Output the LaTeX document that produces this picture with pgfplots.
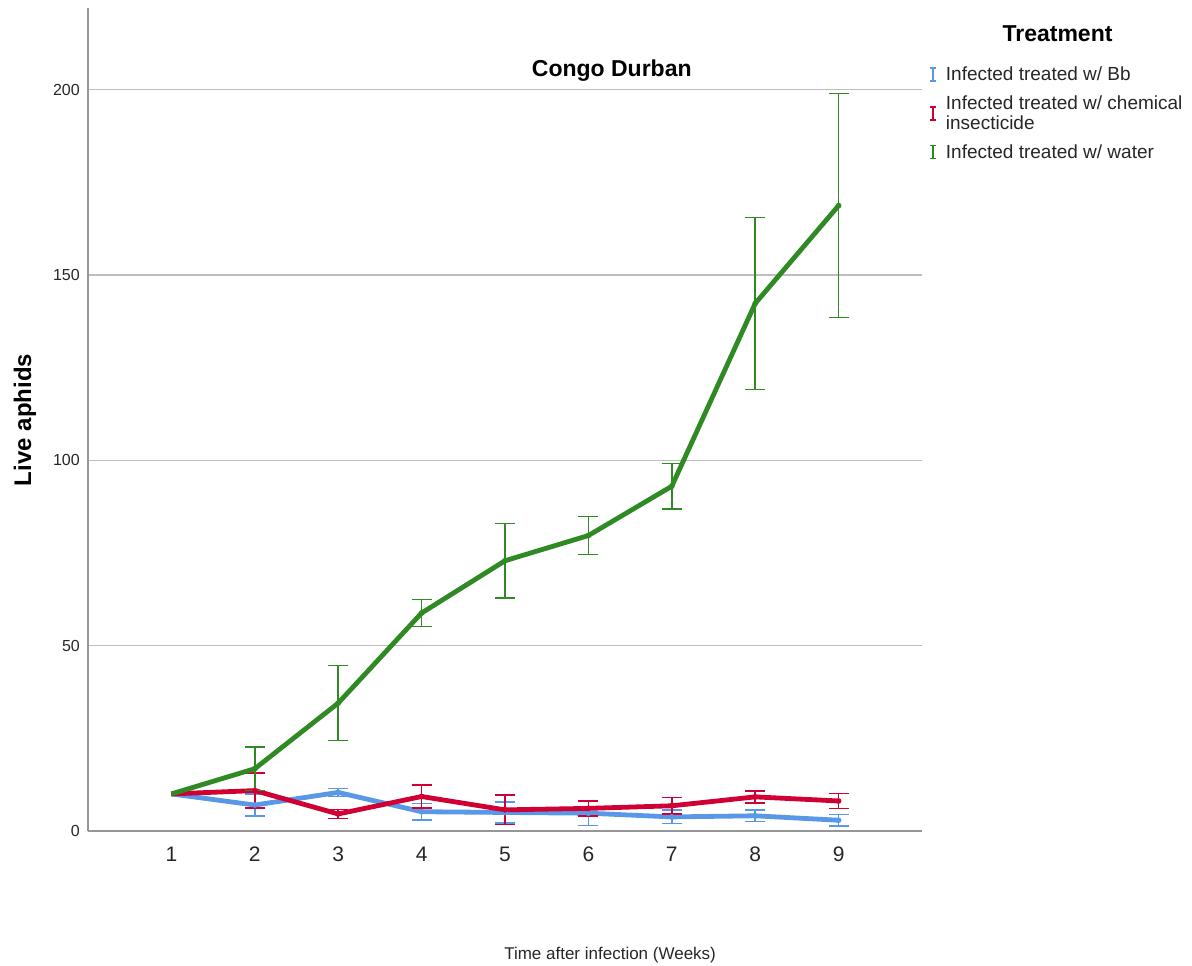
\documentclass[border=0pt]{standalone}
\usepackage{fontspec}
\setmainfont{Liberation Sans}
\usepackage{pgfplots}
\pgfplotsset{compat=1.18}

\definecolor{cBb}{RGB}{88,152,230}
\definecolor{cChem}{RGB}{208,0,52}
\definecolor{cWater}{RGB}{48,138,36}
\definecolor{axisgray}{RGB}{150,150,150}
\definecolor{gridgray}{RGB}{190,190,190}

\pgfplotsset{
  ibar/.style={
    legend image code/.code={
      \path[draw=none] (0pt,0pt) -- (14pt,0pt);
      \draw[line width=1.4pt] (3pt,-6.5pt) -- (3pt,6.5pt);
      \draw[line width=1.4pt] (0pt,-6.5pt) -- (6pt,-6.5pt);
      \draw[line width=1.4pt] (0pt,6.5pt) -- (6pt,6.5pt);
    }
  },
  meanline/.style={line width=4.8pt, line join=round, mark=none, forget plot},
  errbars/.style={only marks, mark=none, line width=1.6pt, ibar,
    error bars/y dir=both, error bars/y explicit,
    error bars/error bar style={line width=1.6pt},
    error bars/error mark options={rotate=90, mark size=10pt, line width=1.6pt}},
}

\begin{document}
\begin{tikzpicture}
\path (-88pt,-135pt) rectangle (1104pt,831pt);
\begin{axis}[
  at={(0pt,0pt)}, anchor=south west,
  scale only axis, width=834pt, height=823pt,
  xmin=0, xmax=10, ymin=0, ymax=222,
  axis x line=bottom, axis y line=left,
  axis line style={-, draw=axisgray, line width=1.5pt},
  xtick={1,...,9}, ytick={0,50,100,150,200},
  major tick length=0pt,
  ymajorgrids, grid style={gridgray, line width=1.2pt},
  /pgf/number format/assume math mode=true,
  xticklabel style={font=\fontsize{21}{24}\selectfont, inner sep=0pt, anchor=north, yshift=-16pt, text=black!85},
  yticklabel style={font=\fontsize{16}{19}\selectfont, inner sep=0pt, anchor=east, xshift=-8pt, text=black!85},
  xlabel={Time after infection (Weeks)},
  xlabel style={font=\fontsize{17}{20}\selectfont, inner sep=0pt, at={(axis description cs:0.626,0)}, anchor=north, yshift=-116pt, text=black!85},
  ylabel={Live aphids},
  ylabel style={font=\bfseries\fontsize{24}{28}\selectfont, inner sep=0pt, at={(axis description cs:-0.0755,0.4994)}, anchor=center},
  legend style={at={(axis description cs:1.0084,0.931)}, anchor=north west, draw=none, fill=none,
    font=\fontsize{19}{20}\selectfont, inner sep=0pt, row sep=9.5pt,
    cells={anchor=west, align=left}, text=black!85},
  legend cell align=left,
  clip=false,
]
% Infected treated w/ Bb
\addplot[meanline, cBb] coordinates {(1,10) (2,7.0) (3,10.4) (4,5.2) (5,5.0) (6,4.8) (7,3.8) (8,4.1) (9,2.9)};
\addplot[errbars, cBb] table[x=x, y=y, y error=e] {
x y e
2 7.0 2.9
3 10.4 1.1
4 5.2 2.2
5 5.0 2.9
6 4.8 3.3
7 3.8 1.8
8 4.1 1.5
9 2.9 1.5
};
\addlegendentry{Infected treated w/ Bb}
% Infected treated w/ chemical insecticide
\addplot[meanline, cChem] coordinates {(1,10) (2,10.9) (3,4.6) (4,9.3) (5,5.7) (6,6.1) (7,6.8) (8,9.2) (9,8.1)};
\addplot[errbars, cChem] table[x=x, y=y, y error=e] {
x y e
2 10.9 4.7
3 4.6 1.2
4 9.3 3.1
5 5.7 4.0
6 6.1 2.0
7 6.8 2.2
8 9.2 1.6
9 8.1 2.0
};
\addlegendentry{Infected treated w/ chemical\\insecticide}
% Infected treated w/ water
\addplot[meanline, cWater] coordinates {(1,10) (2,16.8) (3,34.5) (4,58.8) (5,72.9) (6,79.7) (7,93.0) (8,142.3) (9,168.7)};
\addplot[errbars, cWater] table[x=x, y=y, y error=e] {
x y e
2 16.8 5.9
3 34.5 10.1
4 58.8 3.6
5 72.9 10.0
6 79.7 5.1
7 93.0 6.1
8 142.3 23.2
9 168.7 30.2
};
\addlegendentry{Infected treated w/ water}

\node[font=\bfseries\fontsize{23}{27}\selectfont, anchor=base] at (axis cs:6.28,203.5) {Congo Durban};
\node[font=\bfseries\fontsize{23}{27}\selectfont, anchor=base] at (axis description cs:1.1625,0.959) {Treatment};
\end{axis}
\end{tikzpicture}
\end{document}
